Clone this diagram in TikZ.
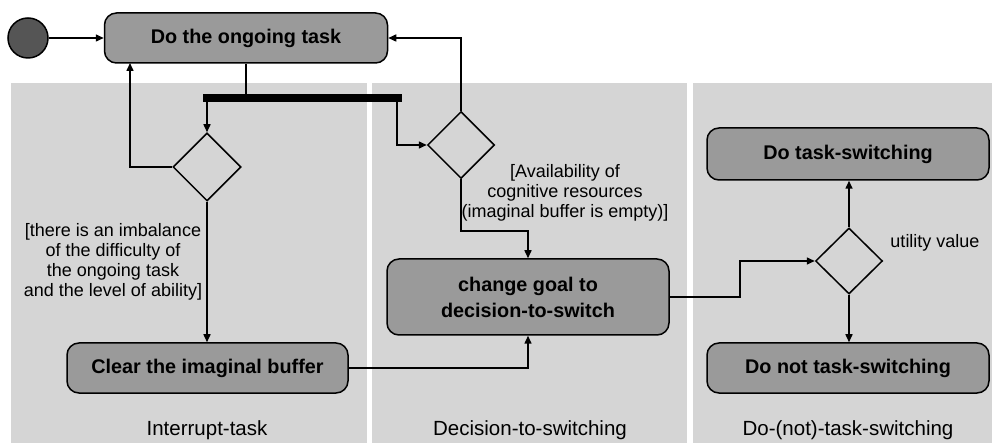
\documentclass[tikz,border=0pt]{standalone}
\usepackage{fontspec}
\setmainfont{Liberation Sans}
\usetikzlibrary{shapes.geometric,arrows.meta}
\definecolor{lanegray}{HTML}{D5D5D5}
\definecolor{boxgray}{HTML}{9A9A9A}
\definecolor{startgray}{HTML}{555555}
\begin{document}
\begin{tikzpicture}[x=1pt,y=-1pt,
  lane/.style={fill=lanegray,draw=none},
  act/.style={draw,line width=1.5pt,fill=boxgray,rounded corners=12pt,align=center,
    font=\fontsize{19.8}{26}\selectfont\bfseries,inner sep=0pt},
  dec/.style={draw,line width=1.5pt,fill=none,diamond,shape aspect=1,inner sep=0pt},
  conn/.style={line width=1.5pt},
  arr/.style={conn,-{Triangle[length=8pt,width=7pt]}},
  guard/.style={align=center,font=\fontsize{18}{20}\selectfont,inner sep=0pt},
  lanelabel/.style={font=\fontsize{20.5}{22}\selectfont,inner sep=0pt}]
\useasboundingbox[fill=white] (0,0) rectangle (993,443);
% swimlanes
\fill[lane] (11,83) rectangle (367,443);
\fill[lane] (372,83) rectangle (687,443);
\fill[lane] (693,83) rectangle (992,443);
% nodes
\node[circle,draw,line width=1.5pt,fill=startgray,minimum size=40pt,inner sep=0pt] (start) at (28,38) {};
\node[act,minimum width=283pt,minimum height=50pt] (task) at (246,38) {Do the ongoing task};
\node[fill=black,minimum width=199pt,minimum height=8pt,inner sep=0pt] (bar) at (302.5,98) {};
\node[dec,minimum width=68pt,minimum height=68pt] (d1) at (207,167) {};
\node[dec,minimum width=67pt,minimum height=67pt] (d2) at (461,145) {};
\node[dec,minimum width=67pt,minimum height=66pt] (d3) at (849,261) {};
\node[act,minimum width=282pt,minimum height=76pt] (goal) at (528,297) {change goal to\\decision-to-switch};
\node[act,minimum width=281pt,minimum height=50pt] (clear) at (207.5,368) {Clear the imaginal buffer};
\node[act,minimum width=282pt,minimum height=52pt] (doswitch) at (848,154) {Do task-switching};
\node[act,minimum width=282pt,minimum height=50pt] (donot) at (848,368) {Do not task-switching};
% texts
\node[guard] (g1) at (113,262) {[there is an imbalance\\of the difficulty of\\the ongoing task\\and the level of ability]};
\node[guard] (g2) at (565,193) {[Availability of\\cognitive resources\\(imaginal buffer is empty)]};
\node[guard] (uv) at (935,243) {utility value};
\node[lanelabel] (l1) at (207,430) {Interrupt-task};
\node[lanelabel] (l2) at (530,430) {Decision-to-switching};
\node[lanelabel] (l3) at (848,430) {Do-(not)-task-switching};
% helper coordinates
\coordinate (b2) at (397,102);
\coordinate (t1) at (130,63);
\coordinate (k1) at (461,231);
\coordinate (k2) at (740,297);
% connectors
\draw[arr] (start.east) -- (task.west);
\draw[conn] (task.south) -- (task.south |- bar.north);
\draw[arr] (bar.south -| d1.north) -- (d1.north);
\draw[arr] (b2) |- (d2.west);
\draw[arr] (d1.west) -| (t1);
\draw[arr] (d2.north) |- (task.east);
\draw[arr] (d2.south) -- (k1) -| (goal.north);
\draw[arr] (d1.south) -- (d1.south |- clear.north);
\draw[arr] (clear.east) -| (goal.south);
\draw[arr] (goal.east) -- (k2) |- (d3.west);
\draw[arr] (d3.north) -- (d3.north |- doswitch.south);
\draw[arr] (d3.south) -- (d3.south |- donot.north);
\end{tikzpicture}
\end{document}
